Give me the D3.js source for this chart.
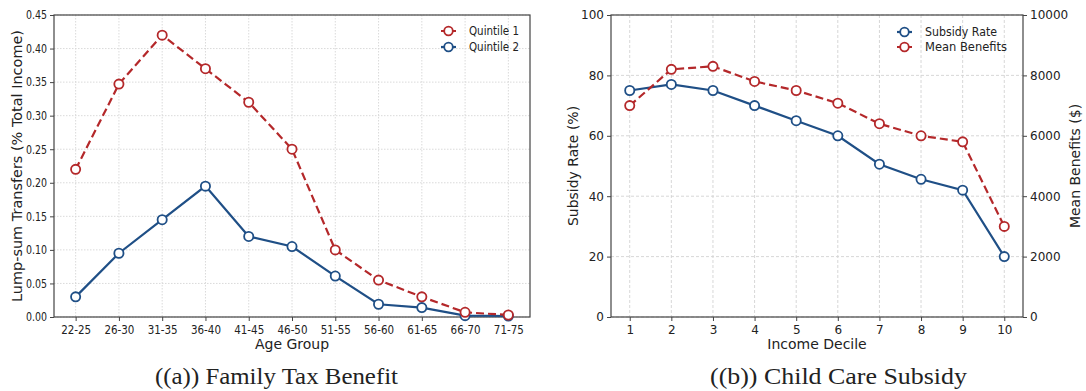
<!DOCTYPE html>
<html>
<head>
<meta charset="utf-8">
<script src="https://cdn.jsdelivr.net/npm/d3@7"></script>
<style>
  body { margin: 0; background: #fff; }
  text { font-family: "DejaVu Sans", sans-serif; fill: #222; }
  .cap { font-family: "Liberation Serif", serif; }
</style>
</head>
<body>
<svg id="canvas"></svg>
<script>
var w = 1086;
var h = 391;
var red = '#b4282a';
var blue = '#1f4f86';

// panel (a)
var ageGroups = ['22-25','26-30','31-35','36-40','41-45','46-50','51-55','56-60','61-65','66-70','71-75'];
var quintile1 = [0.22, 0.347, 0.42, 0.37, 0.32, 0.25, 0.10, 0.055, 0.03, 0.007, 0.003];
var quintile2 = [0.03, 0.095, 0.145, 0.195, 0.12, 0.105, 0.061, 0.019, 0.014, 0.002, 0.0015];
var ticksA = [0, 0.05, 0.10, 0.15, 0.20, 0.25, 0.30, 0.35, 0.40, 0.45];

// panel (b)
var deciles = [1, 2, 3, 4, 5, 6, 7, 8, 9, 10];
var subsidyRate = [75, 77, 75, 70, 65, 60, 50.6, 45.6, 42, 20];
var meanBenefits = [7000, 8200, 8300, 7800, 7500, 7080, 6400, 6000, 5800, 3000];
var ticksLeftB = [0, 20, 40, 60, 80, 100];
var ticksRightB = [0, 2000, 4000, 6000, 8000, 10000];

var svg = d3.select('#canvas')
  .attr('width', w)
  .attr('height', h)
  .attr('viewBox', [0, 0, w, h]);

function drawSeries(g, xs, ys, vals, colour, dash){
  var line = d3.line()
    .x((d, i) => xs(i))
    .y(d => ys(d));
  g.append('path')
    .datum(vals)
    .attr('d', line)
    .style('fill', 'none')
    .style('stroke', colour)
    .style('stroke-width', 2.2)
    .style('stroke-dasharray', dash ? '8,4' : null);
  g.selectAll(null)
    .data(vals)
    .enter()
    .append('circle')
    .attr('cx', (d, i) => xs(i))
    .attr('cy', d => ys(d))
    .attr('r', 4.6)
    .style('fill', '#fff')
    .style('stroke', colour)
    .style('stroke-width', 1.8);
}

function legendRow(g, x, y, colour, dash, label, len){
  g.append('line')
    .attr('x1', x).attr('x2', x + 15)
    .attr('y1', y).attr('y2', y)
    .style('stroke', colour)
    .style('stroke-width', 2.2)
    .style('stroke-dasharray', dash ? '7,3' : null);
  g.append('circle')
    .attr('cx', x + 7.5).attr('cy', y).attr('r', 4.3)
    .style('fill', '#fff').style('stroke', colour).style('stroke-width', 1.8);
  g.append('text')
    .attr('x', x + 28).attr('y', y + 4.3)
    .style('font-size', '12px')
    .attr('textLength', len).attr('lengthAdjust', 'spacingAndGlyphs')
    .text(label);
}

// ---------- panel (a) ----------
var a = { l: 54, r: 530, t: 15, b: 317 };
var xa = d3.scaleLinear().domain([-0.5, ageGroups.length - 0.5]).range([a.l, a.r]);
var ya = d3.scaleLinear().domain([0, 0.45]).range([a.b, a.t]);
var ga = svg.append('g');

// grid
ga.selectAll('.gx').data(ageGroups).enter().append('line')
  .attr('x1', (d, i) => xa(i)).attr('x2', (d, i) => xa(i))
  .attr('y1', a.t).attr('y2', a.b)
  .style('stroke', '#d6d6d6').style('stroke-width', 0.9).style('stroke-dasharray', '1.5,1.5');
ga.selectAll('.gy').data(ticksA).enter().append('line')
  .attr('x1', a.l).attr('x2', a.r)
  .attr('y1', d => ya(d)).attr('y2', d => ya(d))
  .style('stroke', '#d6d6d6').style('stroke-width', 0.9).style('stroke-dasharray', '1.5,1.5');

ga.append('rect')
  .attr('x', a.l).attr('y', a.t).attr('width', a.r - a.l).attr('height', a.b - a.t)
  .style('fill', 'none').style('stroke', '#444').style('stroke-width', 1.2);

var axAy = ga.append('g').attr('transform', 'translate(' + a.l + ',0)')
  .call(d3.axisLeft(ya).tickValues(ticksA).tickFormat(d3.format('.2f')).tickSize(4).tickPadding(3));
var axAx = ga.append('g').attr('transform', 'translate(0,' + a.b + ')')
  .call(d3.axisBottom(xa).tickValues(d3.range(ageGroups.length)).tickFormat(i => ageGroups[i]).tickSize(4).tickPadding(4));
[axAy, axAx].forEach(ax => {
  ax.select('.domain').remove();
  ax.selectAll('line').style('stroke', '#444');
  ax.selectAll('text').style('font-size', '12px').style('fill', '#222').attr('font-family', 'DejaVu Sans');
});
axAy.selectAll('text').attr('textLength', 21).attr('lengthAdjust', 'spacingAndGlyphs');
axAx.selectAll('text').attr('textLength', 30).attr('lengthAdjust', 'spacingAndGlyphs');

drawSeries(ga, xa, ya, quintile2, blue, false);
drawSeries(ga, xa, ya, quintile1, red, true);

ga.append('text')
  .attr('transform', 'translate(17,' + ((a.t + a.b) / 2) + ') rotate(-90)')
  .attr('text-anchor', 'middle').attr('dy', '0.35em')
  .style('font-size', '14px')
  .attr('textLength', 272).attr('lengthAdjust', 'spacingAndGlyphs')
  .text('Lump-sum Transfers (% Total Income)');
ga.append('text')
  .attr('x', (a.l + a.r) / 2).attr('y', 349)
  .attr('text-anchor', 'middle')
  .style('font-size', '14px')
  .text('Age Group');

legendRow(ga, 441, 31, red, true, 'Quintile 1', 50);
legendRow(ga, 441, 47, blue, false, 'Quintile 2', 50);

ga.append('text').attr('class', 'cap')
  .attr('x', 155).attr('y', 384)
  .style('font-size', '24px')
  .attr('textLength', 243).attr('lengthAdjust', 'spacingAndGlyphs')
  .text('((a)) Family Tax Benefit');

// ---------- panel (b) ----------
var b = { l: 611, r: 1023, t: 15, b: 317 };
var xb = d3.scaleLinear().domain([-0.45, deciles.length - 1 + 0.45]).range([b.l, b.r]);
var yb = d3.scaleLinear().domain([0, 100]).range([b.b, b.t]);
var yb2 = d3.scaleLinear().domain([0, 10000]).range([b.b, b.t]);
var gb = svg.append('g');

gb.selectAll('.gx').data(deciles).enter().append('line')
  .attr('x1', (d, i) => xb(i)).attr('x2', (d, i) => xb(i))
  .attr('y1', b.t).attr('y2', b.b)
  .style('stroke', '#d2d2d2').style('stroke-width', 0.9).style('stroke-dasharray', '3,2');
gb.selectAll('.gy').data(ticksLeftB).enter().append('line')
  .attr('x1', b.l).attr('x2', b.r)
  .attr('y1', d => yb(d)).attr('y2', d => yb(d))
  .style('stroke', '#d2d2d2').style('stroke-width', 0.9).style('stroke-dasharray', '3,2');

gb.append('rect')
  .attr('x', b.l).attr('y', b.t).attr('width', b.r - b.l).attr('height', b.b - b.t)
  .style('fill', 'none').style('stroke', '#444').style('stroke-width', 1.2);

var axBy = gb.append('g').attr('transform', 'translate(' + b.l + ',0)')
  .call(d3.axisLeft(yb).tickValues(ticksLeftB).tickSize(4).tickPadding(3));
var axBy2 = gb.append('g').attr('transform', 'translate(' + b.r + ',0)')
  .call(d3.axisRight(yb2).tickValues(ticksRightB).tickFormat(d3.format('d')).tickSize(4).tickPadding(3));
var axBx = gb.append('g').attr('transform', 'translate(0,' + b.b + ')')
  .call(d3.axisBottom(xb).tickValues(d3.range(deciles.length)).tickFormat(i => deciles[i]).tickSize(4).tickPadding(4));
[axBy, axBy2, axBx].forEach(ax => {
  ax.select('.domain').remove();
  ax.selectAll('line').style('stroke', '#444');
  ax.selectAll('text').style('font-size', '12px').style('fill', '#222').attr('font-family', 'DejaVu Sans');
});

drawSeries(gb, xb, yb, subsidyRate, blue, false);
drawSeries(gb, xb, yb2, meanBenefits, red, true);

gb.append('text')
  .attr('transform', 'translate(573,' + ((b.t + b.b) / 2) + ') rotate(-90)')
  .attr('text-anchor', 'middle').attr('dy', '0.35em')
  .style('font-size', '14px')
  .text('Subsidy Rate (%)');
gb.append('text')
  .attr('transform', 'translate(1075,' + ((b.t + b.b) / 2) + ') rotate(-90)')
  .attr('text-anchor', 'middle').attr('dy', '0.35em')
  .style('font-size', '14px')
  .text('Mean Benefits ($)');
gb.append('text')
  .attr('x', (b.l + b.r) / 2).attr('y', 349)
  .attr('text-anchor', 'middle')
  .style('font-size', '14px')
  .text('Income Decile');

legendRow(gb, 897, 32, blue, false, 'Subsidy Rate', 72);
legendRow(gb, 897, 47, red, true, 'Mean Benefits', 82);

gb.append('text').attr('class', 'cap')
  .attr('x', 710).attr('y', 384)
  .style('font-size', '24px')
  .attr('textLength', 257).attr('lengthAdjust', 'spacingAndGlyphs')
  .text('((b)) Child Care Subsidy');
</script>
</body>
</html>
